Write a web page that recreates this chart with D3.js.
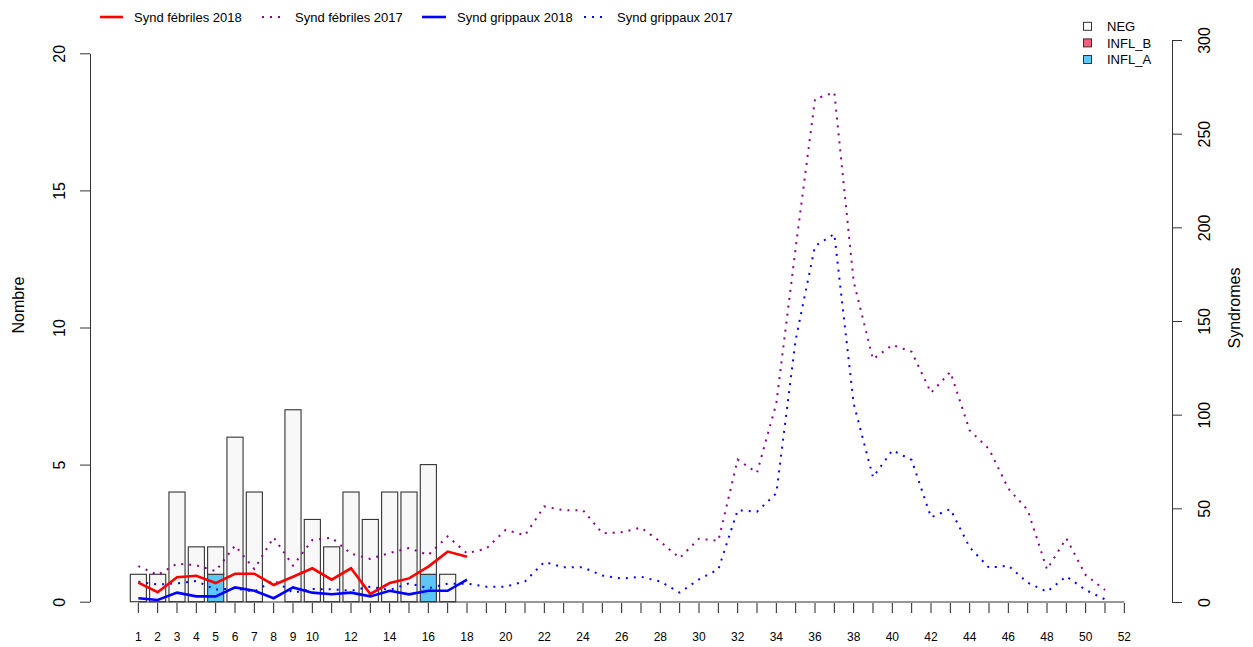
<!DOCTYPE html>
<html>
<head>
<meta charset="utf-8">
<script src="https://cdn.jsdelivr.net/npm/d3@7"></script>
<style>
  body { margin: 0; background: #fff; }
  text { font-family: "Liberation Sans", Arial, sans-serif; }
</style>
</head>
<body>
<script>
// semaines (axe x) et étiquettes affichées
var weeks = [1, 2, 3, 4, 5, 6, 7, 8, 9, 10, 11, 12, 13, 14, 15, 16, 17, 18, 19, 20,
  21, 22, 23, 24, 25, 26, 27, 28, 29, 30, 31, 32, 33, 34, 35, 36, 37, 38, 39, 40,
  41, 42, 43, 44, 45, 46, 47, 48, 49, 50, 51, 52];
var tickLabels = [1, 2, 3, 4, 5, 6, 7, 8, 9, 10, 12, 14, 16, 18, 20, 22, 24, 26, 28,
  30, 32, 34, 36, 38, 40, 42, 44, 46, 48, 50, 52];
var leftTicks = [0, 5, 10, 15, 20];
var rightTicks = [0, 50, 100, 150, 200, 250, 300];

// prélèvements 2018 (semaines 1 à 18)
var weeks2018 = [1, 2, 3, 4, 5, 6, 7, 8, 9, 10, 11, 12, 13, 14, 15, 16, 17, 18];
var negCounts = [1, 1, 4, 2, 1, 6, 4, 0, 7, 3, 2, 4, 3, 4, 4, 4, 1, 0];
var inflB = [0, 0, 0, 0, 0, 0, 0, 0, 0, 0, 0, 0, 0, 0, 0, 0, 0, 0];
var inflA = [0, 0, 0, 0, 1, 0, 0, 0, 0, 0, 0, 0, 0, 0, 0, 1, 0, 0];

// syndromes 2018
var febriles2018 = [10.3, 5.2, 13.2, 14, 10.1, 15.1, 15.1, 9.1, 13.5, 18, 11.9, 18,
  4.3, 10.1, 12.6, 18.9, 26.9, 24.2];
var grippaux2018 = [2, 1.1, 5, 3, 3, 7.8, 6, 2, 7.8, 5, 4.1, 5, 3, 6, 4.1, 6, 6, 11.9];

// syndromes 2017 (semaines 1 à 51)
var febriles2017 = [19.2, 14.4, 20.5, 19.6, 16.5, 30.1, 17.6, 34.5, 19.4, 33.1,
  34.3, 25.8, 23, 26.2, 28.8, 25.1, 35, 26, 28.5, 38.5,
  35.6, 51, 49, 49, 36.7, 37.2, 39.7, 32.2, 23.5, 33.8,
  32.7, 76, 69, 106, 189, 268.5, 272, 171, 129.6, 137.2,
  133.6, 111.7, 122.8, 91.6, 81.7, 60.5, 49.1, 17.4, 34, 14.4, 6.4];
var grippaux2017 = [10.8, 9.3, 10, 11.2, 6.6, 7.3, 5.5, 11.6, 5, 6.9,
  6.8, 6, 8.2, 6.4, 10, 7.3, 9.8, 9.8, 8.2, 8.2,
  11, 21.4, 18.5, 18.5, 14.1, 12.5, 13.5, 10.9, 5, 12.1,
  17.4, 49, 48.2, 58, 140, 190, 196.4, 106, 66.6, 81,
  75.8, 45.2, 49.6, 29.2, 18.3, 19.4, 10.3, 5.5, 13.7, 6.4, 1.4];

var barKeys = ["INFL_A", "INFL_B", "NEG"];
var barColors = { NEG: "#f8f8f8", INFL_B: "#f2617a", INFL_A: "#5cc6f7" };

var width = 1253, height = 647;

var svg = d3
  .select("body")
  .append("svg")
  .attr("width", width)
  .attr("height", height);

var x = d3.scaleBand()
  .domain(weeks)
  .range([128.67, 1134])
  .paddingInner(1 / 6)
  .paddingOuter(1 / 12);
var cx = function (w) { return x(w) + x.bandwidth() / 2; };

var yL = d3.scaleLinear().domain([0, 20]).range([601.7, 53.3]);
var yR = d3.scaleLinear().domain([0, 300]).range([602, 40]);

// barres empilées
var barData = weeks2018.map(function (w, i) {
  return { week: w, INFL_A: inflA[i], INFL_B: inflB[i], NEG: negCounts[i] };
});
var stacked = d3.stack().keys(barKeys)(barData);

svg.append("g")
  .selectAll("g")
  .data(stacked)
  .enter()
  .append("g")
  .attr("fill", function (d) { return barColors[d.key]; })
  .selectAll("rect")
  .data(function (d) { return d.filter(function (s) { return s[1] - s[0] > 0; }); })
  .enter()
  .append("rect")
  .attr("x", function (d) { return x(d.data.week); })
  .attr("width", x.bandwidth())
  .attr("y", function (d) { return yL(d[1]); })
  .attr("height", function (d) { return yL(d[0]) - yL(d[1]); })
  .attr("stroke", "#333")
  .attr("stroke-width", 1.1);

// ligne de base
svg.append("line")
  .attr("x1", cx(1))
  .attr("x2", cx(52))
  .attr("y1", 602)
  .attr("y2", 602)
  .attr("stroke", "#333");

// axe x
var xAxis = svg.append("g")
  .attr("transform", "translate(0,603)")
  .call(d3.axisBottom(x)
    .tickSize(10)
    .tickSizeOuter(0)
    .tickPadding(19)
    .tickFormat(function (w) { return tickLabels.indexOf(w) >= 0 ? w : ""; }))
  .attr("font-family", null)
  .attr("font-size", "12px");
xAxis.select(".domain").remove();
xAxis.selectAll("line").attr("stroke", "#222");
xAxis.selectAll("text").attr("fill", "#000");

// axe gauche
var leftAxis = svg.append("g")
  .attr("transform", "translate(90,0)")
  .call(d3.axisLeft(yL).tickValues(leftTicks).tickSize(10).tickSizeOuter(0))
  .attr("font-family", null)
  .attr("font-size", "16px");
leftAxis.selectAll("path, line").attr("stroke", "#333");
leftAxis.selectAll("text")
  .attr("x", null)
  .attr("dy", null)
  .attr("fill", "#000")
  .attr("text-anchor", "middle")
  .attr("transform", "translate(-25,0) rotate(-90)");

// axe droit
var rightAxis = svg.append("g")
  .attr("transform", "translate(1172,0)")
  .call(d3.axisRight(yR).tickValues(rightTicks).tickSize(10).tickSizeOuter(0))
  .attr("font-family", null)
  .attr("font-size", "16px");
rightAxis.selectAll("path, line").attr("stroke", "#333");
rightAxis.selectAll("text")
  .attr("x", null)
  .attr("dy", null)
  .attr("fill", "#000")
  .attr("text-anchor", "middle")
  .attr("transform", "translate(38,0) rotate(-90)");

// titres des axes
svg.append("text")
  .attr("transform", "translate(24,305) rotate(-90)")
  .style("text-anchor", "middle")
  .style("font-size", "16px")
  .text("Nombre");

svg.append("text")
  .attr("transform", "translate(1240,308) rotate(-90)")
  .style("text-anchor", "middle")
  .style("font-size", "16px")
  .text("Syndromes");

// courbes
var line = d3.line()
  .x(function (d, i) { return cx(weeks[i]); })
  .y(function (d) { return yR(d); });

svg.append("path")
  .datum(febriles2017)
  .attr("d", line)
  .attr("fill", "none")
  .attr("stroke", "#8b008b")
  .attr("stroke-width", 2)
  .attr("stroke-dasharray", "2,6");

svg.append("path")
  .datum(grippaux2017)
  .attr("d", line)
  .attr("fill", "none")
  .attr("stroke", "#0000ff")
  .attr("stroke-width", 2)
  .attr("stroke-dasharray", "2,6");

svg.append("path")
  .datum(febriles2018)
  .attr("d", line)
  .attr("fill", "none")
  .attr("stroke", "#ff0000")
  .attr("stroke-width", 2.6);

svg.append("path")
  .datum(grippaux2018)
  .attr("d", line)
  .attr("fill", "none")
  .attr("stroke", "#0000ff")
  .attr("stroke-width", 2.6);

// légende du haut
var topLegend = [
  { label: "Synd fébriles 2018", color: "#ff0000", dash: null, x1: 100, x2: 123, tx: 134 },
  { label: "Synd fébriles 2017", color: "#8b008b", dash: "2,6", x1: 262, x2: 282, tx: 295 },
  { label: "Synd grippaux 2018", color: "#0000ff", dash: null, x1: 422, x2: 446, tx: 457 },
  { label: "Synd grippaux 2017", color: "#0000ff", dash: "2,6", x1: 584, x2: 604, tx: 617 }
];
var tl = svg.append("g").selectAll("g").data(topLegend).enter().append("g");
tl.append("line")
  .attr("x1", function (d) { return d.x1; })
  .attr("x2", function (d) { return d.x2; })
  .attr("y1", 17)
  .attr("y2", 17)
  .attr("stroke", function (d) { return d.color; })
  .attr("stroke-width", function (d) { return d.dash ? 2 : 2.6; })
  .attr("stroke-dasharray", function (d) { return d.dash; });
tl.append("text")
  .attr("x", function (d) { return d.tx; })
  .attr("y", 21.6)
  .style("font-size", "13px")
  .text(function (d) { return d.label; });

// légende de droite
var rightLegend = ["NEG", "INFL_B", "INFL_A"];
var rl = svg.append("g").selectAll("g").data(rightLegend).enter().append("g")
  .attr("transform", function (d, i) { return "translate(0," + (26.3 + i * 16.6) + ")"; });
rl.append("rect")
  .attr("x", 1083.5)
  .attr("y", -4)
  .attr("width", 8)
  .attr("height", 8)
  .attr("fill", function (d) { return d === "NEG" ? "#ffffff" : barColors[d]; })
  .attr("stroke", "#333");
rl.append("text")
  .attr("x", 1107)
  .attr("y", 4.7)
  .style("font-size", "13px")
  .text(function (d) { return d; });
</script>
</body>
</html>
